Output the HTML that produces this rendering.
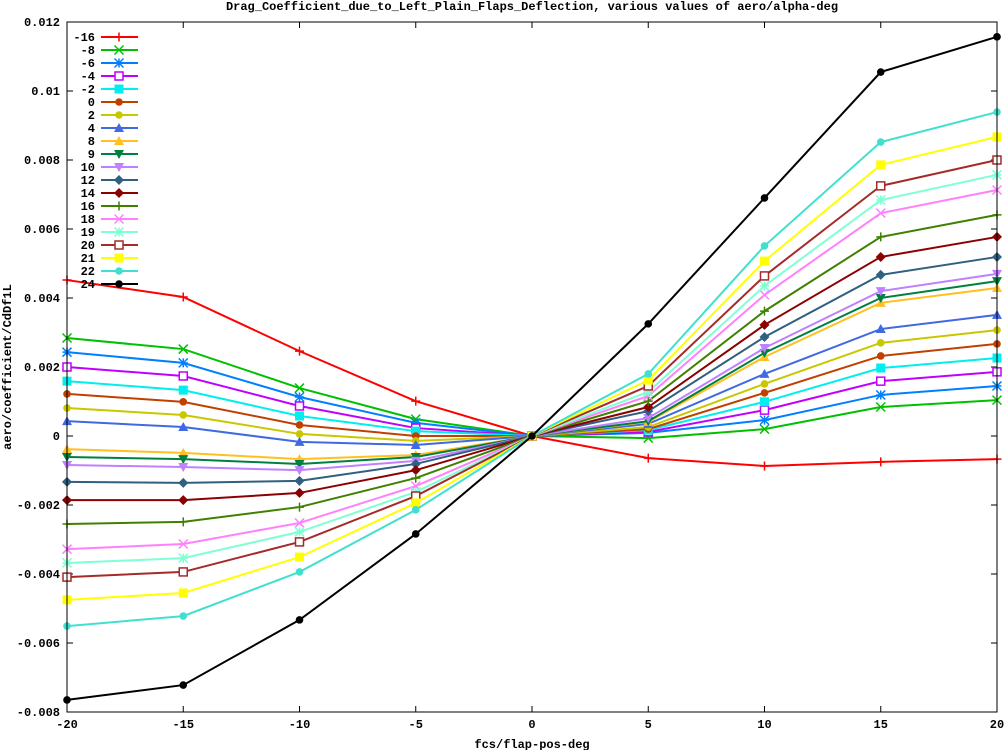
<!DOCTYPE html>
<html><head><meta charset="utf-8">
<style>
body{margin:0;background:#fff;}
svg{display:block;font-family:"Liberation Mono",monospace;font-weight:bold;font-size:12px;}
</style></head>
<body>
<svg id="chart" width="1007" height="750" viewBox="0 0 1007 750" xmlns="http://www.w3.org/2000/svg">
<rect width="1007" height="750" fill="#fff"/>
<text x="532" y="10" text-anchor="middle">Drag_Coefficient_due_to_Left_Plain_Flaps_Deflection, various values of aero/alpha-deg</text>
<text x="532" y="748" text-anchor="middle">fcs/flap-pos-deg</text>
<text transform="translate(11,367) rotate(-90)" text-anchor="middle">aero/coefficient/CdDf1L</text>
<g id="grid"></g>
<g id="series"></g>
<g id="legend"></g>
<rect x="67" y="22" width="930" height="690" fill="none" stroke="#000" stroke-width="1"/>
</svg>
<script>
const xCats = [-20,-15,-10,-5,0,5,10,15,20];
const xTicks = [-20,-15,-10,-5,0,5,10,15,20];
const yTicks = [-0.008,-0.006,-0.004,-0.002,0,0.002,0.004,0.006,0.008,0.01,0.012];
const yTickLabels = ["-0.008","-0.006","-0.004","-0.002","0","0.002","0.004","0.006","0.008","0.01","0.012"];
const seriesNames = ["-16","-8","-6","-4","-2","0","2","4","8","9","10","12","14","16","18","19","20","21","22","24"];
const sM16 = [45.2,40.3,24.6,10.1,0,-6.4,-8.7,-7.5,-6.7];
const sM8 = [28.4,25.2,13.9,4.9,0,-0.6,2.0,8.4,10.4];
const sM6 = [24.3,21.2,11.3,3.8,0,0.9,4.6,11.9,14.5];
const sM4 = [20.0,17.4,8.7,2.3,0,1.2,7.5,15.9,18.6];
const sM2 = [15.9,13.3,5.8,1.4,0,1.7,9.9,19.7,22.6];
const s0 = [12.2,9.9,3.2,0,0,2.0,12.5,23.2,26.7];
const s2 = [8.1,6.1,0.6,-1.4,0,2.6,15.1,27.0,30.7];
const s4 = [4.3,2.6,-1.7,-2.6,0,3.5,18.0,31.0,35.1];
const s8 = [-3.8,-4.9,-6.7,-5.5,0,4.1,22.9,38.6,42.9];
const s9 = [-6.1,-6.7,-8.1,-6.1,0,4.3,24.1,40.0,44.9];
const s10 = [-8.4,-9.0,-9.9,-7.2,0,5.2,25.5,42.0,47.0];
const s12 = [-13.3,-13.6,-13.0,-8.1,0,7.2,28.7,46.7,51.9];
const s14 = [-18.6,-18.6,-16.5,-9.9,0,8.4,32.2,51.9,57.7];
const s16 = [-25.5,-24.9,-20.6,-12.2,0,10.1,36.2,57.7,64.1];
const s18 = [-32.8,-31.3,-25.2,-14.5,0,11.6,40.9,64.6,71.3];
const s19 = [-36.8,-35.4,-27.8,-16.2,0,12.8,43.5,68.4,75.7];
const s20 = [-40.9,-39.4,-30.7,-17.4,0,14.5,46.4,72.5,80.0];
const s21 = [-47.5,-45.5,-35.1,-19.4,0,16.2,50.7,78.6,86.7];
const s22 = [-55.1,-52.2,-39.4,-21.4,0,18.0,55.1,85.2,93.9];
const s24 = [-76.5,-72.2,-53.3,-28.4,0,32.5,69.0,105.5,115.7];
const valueScale = 1e-4;
const allSeries = [sM16,sM8,sM6,sM4,sM2,s0,s2,s4,s8,s9,s10,s12,s14,s16,s18,s19,s20,s21,s22,s24];

const colors = ["#ff0000","#00c000","#0080ff","#c000ff","#00eeee","#c04000","#c8c800","#4169e1","#ffc020","#008040","#c080ff","#306080","#8b0000","#408000","#ff80ff","#7fffd4","#a52a2a","#ffff00","#40e0d0","#000000"];
const markers = ["plus","x","star","sqo","sqf","circ","circ","tri","tri","tridn","tridn","dia","dia","plus","x","star","sqo","sqf","circ","circ"];

const X0=67,X1=997,Y0=22,Y1=712;
const xScale = v => X0 + (v+20)/40*(X1-X0);
const yScale = v => Y1 - (v+0.008)/0.020*(Y1-Y0);
const NS="http://www.w3.org/2000/svg";
function mk(tag, attrs, parent){const e=document.createElementNS(NS,tag);for(const k in attrs)e.setAttribute(k,attrs[k]);parent.appendChild(e);return e;}

const grid=document.getElementById('grid');
xTicks.forEach(t=>{
  const x=xScale(t);
  const l=mk('path',{d:`M${x},${Y1}v-6M${x},${Y0}v6`,stroke:'#000','stroke-width':1},grid);
  
  
  const tx=mk('text',{x:x,y:Y1+16,'text-anchor':'middle'},grid);
  tx.textContent=String(t);
  
  
});
yTicks.forEach((t,i)=>{
  const y=yScale(t);
  const l=mk('path',{d:`M${X0},${y}h6M${X1},${y}h-6`,stroke:'#000','stroke-width':1},grid);
  
  
  const tx=mk('text',{x:X0-7,y:y+4,'text-anchor':'end'},grid);
  tx.textContent=yTickLabels[i];
  
  
});

function marker(type,x,y,c,parent){
  let e;
  const s=4.5;
  if(type==='plus') e=mk('path',{d:`M${x-s},${y}h${2*s}M${x},${y-s}v${2*s}`,stroke:c,'stroke-width':1.5,fill:'none'},parent);
  else if(type==='x') e=mk('path',{d:`M${x-s},${y-s}L${x+s},${y+s}M${x-s},${y+s}L${x+s},${y-s}`,stroke:c,'stroke-width':1.5,fill:'none'},parent);
  else if(type==='star') e=mk('path',{d:`M${x-s},${y}h${2*s}M${x},${y-s}v${2*s}M${x-s},${y-s}L${x+s},${y+s}M${x-s},${y+s}L${x+s},${y-s}`,stroke:c,'stroke-width':1.5,fill:'none'},parent);
  else if(type==='sqo') e=mk('rect',{x:x-4,y:y-4,width:8,height:8,stroke:c,'stroke-width':1.5,fill:'#fff'},parent);
  else if(type==='sqf') e=mk('rect',{x:x-4.5,y:y-4.5,width:9,height:9,fill:c},parent);
  else if(type==='circ') e=mk('circle',{cx:x,cy:y,r:3.8,fill:c},parent);
  else if(type==='tri') e=mk('path',{d:`M${x},${y-5}L${x+5},${y+4}L${x-5},${y+4}Z`,fill:c},parent);
  else if(type==='tridn') e=mk('path',{d:`M${x},${y+5}L${x+5},${y-4}L${x-5},${y-4}Z`,fill:c},parent);
  else e=mk('path',{d:`M${x},${y-5}L${x+5},${y}L${x},${y+5}L${x-5},${y}Z`,fill:c},parent);
  return e;
}

const sg=document.getElementById('series');
const lg=document.getElementById('legend');
allSeries.forEach((vals,i)=>{
  const g=mk('g',{},sg);
  
  
  const d=vals.map((v,j)=>(j?'L':'M')+xScale(xCats[j])+','+yScale(v*valueScale)).join('');
  const p=mk('path',{d:d,stroke:colors[i],'stroke-width':2,fill:'none'},g);
  
  
  vals.forEach((v,j)=>{
    const m=marker(markers[i],xScale(xCats[j]),yScale(v*valueScale),colors[i],g);
    
    
  });
  const ly=37+i*13;
  const le=mk('g',{},lg);
  
  
  const lt=mk('text',{x:95,y:ly+4,'text-anchor':'end'},le);
  lt.textContent=seriesNames[i];
  mk('path',{d:`M101,${ly}h37`,stroke:colors[i],'stroke-width':2},le);
  marker(markers[i],119,ly,colors[i],le);
});
</script>
</body></html>
